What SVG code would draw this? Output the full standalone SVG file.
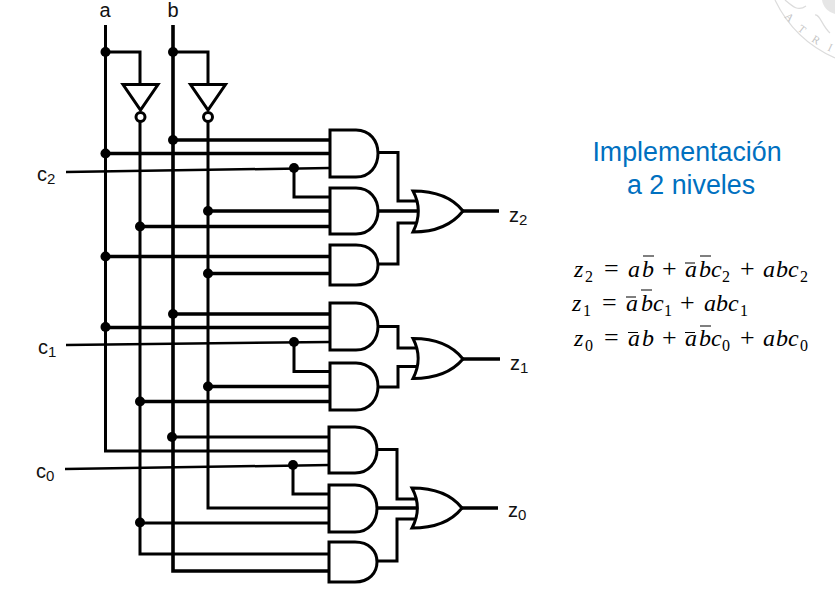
<svg xmlns="http://www.w3.org/2000/svg" width="835" height="589" viewBox="0 0 835 589">
<style>
text{font-family:"Liberation Sans",Arial,sans-serif;fill:#111}
.w{fill:none;stroke:#000;stroke-width:3;stroke-linejoin:miter;stroke-linecap:butt}
.t{fill:none;stroke:#000;stroke-width:3.600}
.n{fill:none;stroke:#000;stroke-width:2.500}
.g{fill:#fff;stroke:#000;stroke-width:3;stroke-linejoin:miter}
.lab{font-size:20px}
.lab tspan{font-size:15px}
.title{font-size:26.800px;fill:#0070c0;text-anchor:middle}
.eq{font-family:"Liberation Serif","Times New Roman",serif;font-size:24px;font-style:italic;fill:#000}
.eq .r{font-style:normal;font-size:26px}
.s{font-family:"Liberation Serif","Times New Roman",serif;font-size:16px;fill:#000}
.bar{stroke:#000;stroke-width:1.200}
.seal{fill:none;stroke:#dcdcdc;stroke-width:1.200}
.sealf{fill:#e6e6e6;stroke:none}
.sealt{font-family:"Liberation Serif",serif;font-size:11px;fill:#c4c4c4}
</style>
<defs><circle id="dot" r="5" fill="#000"/></defs>

<g id="seal">
<path class="seal" d="M775 0C788 27 808 46 835 58"/>
<path class="seal" d="M785 0C792 6 798 12 806 6"/>
<path class="sealf" d="M822 0C823 7 828 12 835 14V0Z"/>
<path class="seal" d="M815 15C820 14 822 26 830 33"/>
<text class="sealt" transform="translate(784 17) rotate(45)">A</text>
<text class="sealt" transform="translate(797 30) rotate(38)">T</text>
<text class="sealt" transform="translate(811 41) rotate(32)">R</text>
<text class="sealt" transform="translate(827 50) rotate(25)">I</text>
</g>

<g id="connectors">
<path class="w" d="M105.500 25V451H330"/>
<path class="t" d="M173 25V571H330"/>
<path class="w" d="M105.500 52H140V85"/>
<path class="w" d="M173 52H208V85"/>
<path class="w" d="M140 121V554H330"/>
<path class="w" d="M208 121V508H330"/>
<path class="t" d="M173 140H330M105.500 153.500H330"/>
<path class="n" d="M66 172L330 168"/>
<path class="w" d="M294 168V197H330"/>
<path class="t" d="M208 211H330M140 226.500H330M105.500 256.500H330M208 273.500H330"/>
<path class="t" d="M173 314H330M105.500 327.500H330"/>
<path class="n" d="M66 345L330 342"/>
<path class="w" d="M294 342V371.500H330"/>
<path class="t" d="M208 386.500H330M140 401.500H330"/>
<path class="w" d="M172 437H330"/>
<path class="n" d="M65 469L330 465"/>
<path class="w" d="M293 465V494H330"/>
<path class="w" d="M140 523H330"/>
<path class="w" d="M378 152.500H398V201H416"/>
<path class="t" d="M378 211H419"/>
<path class="w" d="M378 264H398V223H416"/>
<path class="t" d="M463 211H499"/>
<path class="w" d="M378 326.500H398V348H416"/>
<path class="w" d="M378 387H398V366.500H416"/>
<path class="t" d="M463 359H500"/>
<path class="w" d="M377 449.500H397V499H415"/>
<path class="t" d="M377 508H418"/>
<path class="w" d="M377 561H397V519H415"/>
<path class="t" d="M462 508H498"/>
<use href="#dot" x="105.500" y="52"/><use href="#dot" x="173" y="52"/>
<use href="#dot" x="173" y="140"/><use href="#dot" x="105.500" y="153.500"/>
<use href="#dot" x="294" y="168"/><use href="#dot" x="208" y="211"/>
<use href="#dot" x="140" y="226.500"/><use href="#dot" x="105.500" y="256.500"/>
<use href="#dot" x="208" y="273.500"/><use href="#dot" x="173" y="314"/>
<use href="#dot" x="105.500" y="327"/><use href="#dot" x="294" y="342"/>
<use href="#dot" x="208" y="386.500"/><use href="#dot" x="140" y="401.500"/>
<use href="#dot" x="172" y="437"/><use href="#dot" x="293" y="465"/>
<use href="#dot" x="140" y="522.500"/>
</g>

<g id="inv-a"><path class="g" d="M123 84.500H158L140.500 110Z"/><circle class="g" cx="140.500" cy="117" r="4.500"/></g>
<g id="inv-b"><path class="g" d="M190.500 84.500H225.500L208 110Z"/><circle class="g" cx="208" cy="117" r="4.500"/></g>

<g id="and-z2-1"><path class="g" d="M330 130H356C370 130 378 141 378 153.500C378 166 370 177 356 177H330Z"/></g>
<g id="and-z2-2"><path class="g" d="M330 188H356C370 188 378 199 378 211C378 223 370 234 356 234H330Z"/></g>
<g id="and-z2-3"><path class="g" d="M330 245H356C370 245 378 254 378 265C378 276 370 285 356 285H330Z"/></g>
<g id="or-z2"><path class="g" d="M413 191C435 191 452 197 463 211C452 225 435 232 413 232C420 218 420 204 413 191Z"/></g>

<g id="and-z1-1"><path class="g" d="M330 303H356C370 303 378 314 378 326.500C378 339 370 350 356 350H330Z"/></g>
<g id="and-z1-2"><path class="g" d="M330 363H356C370 363 378 374 378 386.500C378 399 370 410 356 410H330Z"/></g>
<g id="or-z1"><path class="g" d="M413 338.500C435 338.500 452 345 463 359C452 372 435 378.500 413 378.500C420 365 420 352 413 338.500Z"/></g>

<g id="and-z0-1"><path class="g" d="M329 427H355C369 427 377 438 377 450C377 462 369 473 355 473H329Z"/></g>
<g id="and-z0-2"><path class="g" d="M329 485H355C369 485 377 496 377 508.500C377 521 369 532 355 532H329Z"/></g>
<g id="and-z0-3"><path class="g" d="M329 542H355C369 542 377 551 377 562C377 573 369 582 355 582H329Z"/></g>
<g id="or-z0"><path class="g" d="M412 488C434 488 451 494 462 508C451 522 434 528 412 528C419 515 419 501 412 488Z"/></g>

<g id="labels">
<text class="lab" x="105" y="17" text-anchor="middle">a</text>
<text class="lab" x="173" y="17" text-anchor="middle">b</text>
<text class="lab" x="37" y="181">c<tspan dy="3">2</tspan></text>
<text class="lab" x="38" y="354">c<tspan dy="3">1</tspan></text>
<text class="lab" x="36" y="478">c<tspan dy="3">0</tspan></text>
<text class="lab" x="509" y="222">z<tspan dy="3">2</tspan></text>
<text class="lab" x="510" y="370">z<tspan dy="3">1</tspan></text>
<text class="lab" x="508" y="517">z<tspan dy="3">0</tspan></text>
<text class="title" x="687" y="161">Implementación</text>
<text class="title" x="691" y="194">a 2 niveles</text>
</g>

<g id="equations">
<text class="eq" y="277"><tspan x="574">z</tspan><tspan class="r" x="604">=</tspan><tspan x="628">a</tspan><tspan x="642">b</tspan><tspan class="r" x="662">+</tspan><tspan x="685">a</tspan><tspan x="699">b</tspan><tspan x="711">c</tspan><tspan class="r" x="740">+</tspan><tspan x="763">a</tspan><tspan x="776">b</tspan><tspan x="788">c</tspan></text>
<text class="s" x="585" y="282">2</text><text class="s" x="722" y="282">2</text><text class="s" x="800" y="282">2</text>
<text class="eq" y="311"><tspan x="572">z</tspan><tspan class="r" x="602">=</tspan><tspan x="626">a</tspan><tspan x="641">b</tspan><tspan x="653">c</tspan><tspan class="r" x="680">+</tspan><tspan x="704">a</tspan><tspan x="716">b</tspan><tspan x="728">c</tspan></text>
<text class="s" x="583" y="316">1</text><text class="s" x="664" y="316">1</text><text class="s" x="740" y="316">1</text>
<text class="eq" y="346"><tspan x="574">z</tspan><tspan class="r" x="604">=</tspan><tspan x="628">a</tspan><tspan x="642">b</tspan><tspan class="r" x="662">+</tspan><tspan x="685">a</tspan><tspan x="699">b</tspan><tspan x="711">c</tspan><tspan class="r" x="740">+</tspan><tspan x="763">a</tspan><tspan x="776">b</tspan><tspan x="788">c</tspan></text>
<text class="s" x="585" y="351">0</text><text class="s" x="722" y="351">0</text><text class="s" x="800" y="351">0</text>
<path class="bar" d="M643 256H654M685 263H695M700 256H711M626 297H636M641 290H652M628 332.500H638M685 332.500H695M700 326H711"/>
</g>
</svg>
